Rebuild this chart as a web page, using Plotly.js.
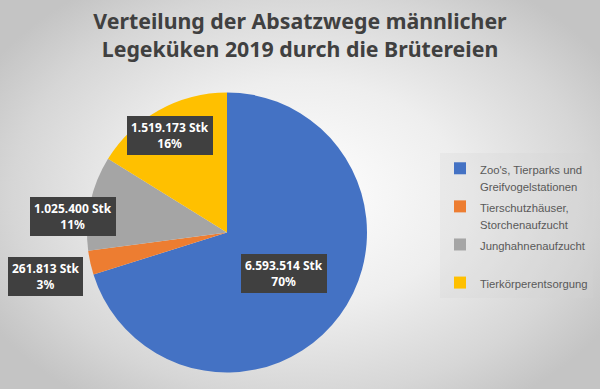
<!DOCTYPE html>
<html>
<head>
<meta charset="utf-8">
<script src="https://cdn.plot.ly/plotly-3.0.1.min.js"></script>
<style>
html, body { margin:0; padding:0; }
body { width:600px; height:389px; background: radial-gradient(ellipse 60% 65% at 50% 50%, #ffffff 0%, #eeeeee 45%, #d6d6d6 80%, #c4c4c4 100%); }
#chart { width:600px; height:389px; }
</style>
</head>
<body>
<div id="chart"></div>
<script>
const categories = ["Zoo's, Tierparks und<br>Greifvogelstationen", "Tierschutzhäuser,<br>Storchenaufzucht", "Junghahnenaufzucht<br> ", "Tierkörperentsorgung"];
const values = [6593514, 261813, 1025400, 1519173];
const valueLabels = ["6.593.514 Stk", "261.813 Stk", "1.025.400 Stk", "1.519.173 Stk"];
const percentLabels = ["70%", "3%", "11%", "16%"];
const colors = ["#4472C4", "#ED7D31", "#A5A5A5", "#FFC000"];

// label box centers in pixels (x, y)
const labelPos = [[284, 273], [45, 276], [73, 216], [170, 135]];

const W = 600, H = 389;

// legend text rendered smaller than the legend's line height font, to mimic wider item spacing
const legendLabels = categories.map(c => c.split('<br>')
  .map(l => '<span style="font-size:11.3px">' + l + '</span>').join('<br>'));

const annotations = labelPos.map((p, i) => ({
  xref: 'paper', yref: 'paper',
  x: p[0] / W, y: 1 - p[1] / H,
  xanchor: 'center', yanchor: 'middle',
  text: '<b>' + valueLabels[i] + '<br>' + percentLabels[i] + '</b>',
  showarrow: false,
  font: {family: 'Noto Sans', size: 12, color: '#ffffff'},
  bgcolor: '#404040',
  bordercolor: '#404040',
  borderpad: 3,
  height: 31,
  align: 'center'
}));

const data = [{
  type: 'pie',
  labels: legendLabels,
  values: values,
  marker: {colors: colors, line: {width: 0}},
  sort: false,
  direction: 'clockwise',
  rotation: 0,
  textinfo: 'none',
  hoverinfo: 'none',
  domain: {x: [87 / W, 367 / W], y: [1 - 373 / H, 1 - 92 / H]}
}];

const layout = {
  width: 600, height: 389,
  margin: {l: 0, r: 0, t: 0, b: 0},
  paper_bgcolor: 'rgba(0,0,0,0)',
  plot_bgcolor: 'rgba(0,0,0,0)',
  showlegend: true,
  title: {
    text: '<b>Verteilung der Absatzwege männlicher<br>Legeküken 2019 durch die Brütereien</b>',
    x: 0.5, xanchor: 'center',
    yref: 'container',
    y: 0.925, yanchor: 'top',
    font: {family: 'Noto Sans', size: 21.3, color: '#404040'}
  },
  legend: {
    x: 440 / W, xanchor: 'left',
    y: 1 - 153 / H, yanchor: 'top',
    valign: 'top',
    bgcolor: 'rgba(210,210,210,0.25)',
    font: {family: 'Liberation Sans', size: 13.5, color: '#595959'},
    itemwidth: 30,
    traceorder: 'normal'
  },
  annotations: annotations
};

Plotly.newPlot('chart', data, layout, {displayModeBar: false, staticPlot: true});
</script>
</body>
</html>
